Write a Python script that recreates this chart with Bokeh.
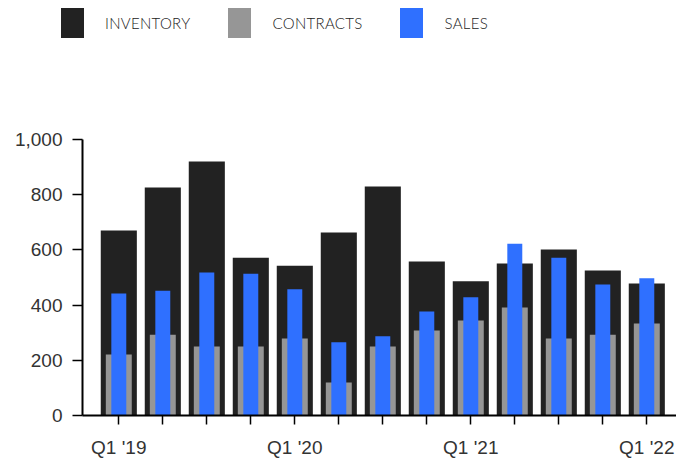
from bokeh.plotting import figure
from bokeh.layouts import column
from bokeh.models import (Range1d, FixedTicker, NumeralTickFormatter, ColumnDataSource, Div)
from bokeh.embed import file_html
from bokeh.resources import INLINE

quarters = ["Q1 '19", "Q2 '19", "Q3 '19", "Q4 '19",
            "Q1 '20", "Q2 '20", "Q3 '20", "Q4 '20",
            "Q1 '21", "Q2 '21", "Q3 '21", "Q4 '21",
            "Q1 '22"]
inventory = [670, 826, 920, 572, 543, 663, 830, 558, 486, 551, 601, 525, 478]
contracts = [221, 293, 250, 250, 279, 120, 250, 308, 344, 391, 279, 293, 333]
sales = [442, 452, 518, 514, 457, 265, 287, 377, 428, 622, 572, 475, 497]
y_ticks = [0, 200, 400, 600, 800, 1000]
series_names = ["INVENTORY", "CONTRACTS", "SALES"]
series_colors = ["#222222", "#969696", "#2F70FF"]

idx = list(range(len(quarters)))
src = ColumnDataSource(dict(x=idx, inv=inventory, con=contracts, sal=sales, q=quarters))

# ---- main chart ----
p = figure(width=676, height=405, output_backend="svg", toolbar_location=None,
           x_range=Range1d(-0.825, 12.675), y_range=Range1d(0, 1000),
           min_border_left=82, min_border_right=0, min_border_top=83, min_border_bottom=46)
p.outline_line_color = None
p.grid.grid_line_color = None

p.vbar(x="x", top="inv", width=0.82, source=src, fill_color=series_colors[0], line_color=None)
p.vbar(x="x", top="con", width=0.59, source=src, fill_color=series_colors[1], line_color=None)
p.vbar(x="x", top="sal", width=0.34, source=src, fill_color=series_colors[2], line_color=None)

xa = p.xaxis[0]
xa.ticker = FixedTicker(ticks=idx)
xa.major_label_overrides = {i: (q if q.startswith("Q1") else "") for i, q in zip(idx, quarters)}
xa.axis_line_color = "black"
xa.axis_line_width = 2
xa.major_tick_line_color = "black"
xa.major_tick_line_width = 1.5
xa.major_tick_in = 0
xa.major_tick_out = 9
xa.minor_tick_line_color = None
xa.major_label_standoff = 12
xa.major_label_text_font = "Liberation Sans"
xa.major_label_text_font_size = "19px"
xa.major_label_text_color = "#333333"

ya = p.yaxis[0]
ya.ticker = FixedTicker(ticks=y_ticks)
ya.formatter = NumeralTickFormatter(format="0,0")
ya.axis_line_color = "black"
ya.axis_line_width = 2
ya.major_tick_line_color = "black"
ya.major_tick_line_width = 1.5
ya.major_tick_in = 0
ya.major_tick_out = 10
ya.minor_tick_line_color = None
ya.major_label_standoff = 10
ya.major_label_text_font = "Liberation Sans"
ya.major_label_text_font_size = "19px"
ya.major_label_text_color = "#333333"

# ---- legend strip (HTML) ----
items_html = "".join(
    f'<span style="display:inline-block;width:23px;height:30px;background:{c};flex:none"></span>'
    f'<span style="margin-left:21px;margin-right:38px;padding-top:2px;font-family:Lato,sans-serif;'
    f'font-weight:300;font-size:15px;letter-spacing:0.3px;color:#222222;white-space:nowrap">{n}</span>'
    for n, c in zip(series_names, series_colors))
legend_html = (
    '<div style="position:relative;width:676px;height:56px;">'
    '<div style="position:absolute;left:61px;top:8px;height:30px;display:flex;align-items:center;">'
    f'{items_html}</div></div>')
legend_div = Div(text=legend_html, width=676, height=56, margin=0)

layout = column(legend_div, p, spacing=0)
open("out.html", "w").write(file_html(layout, INLINE))
